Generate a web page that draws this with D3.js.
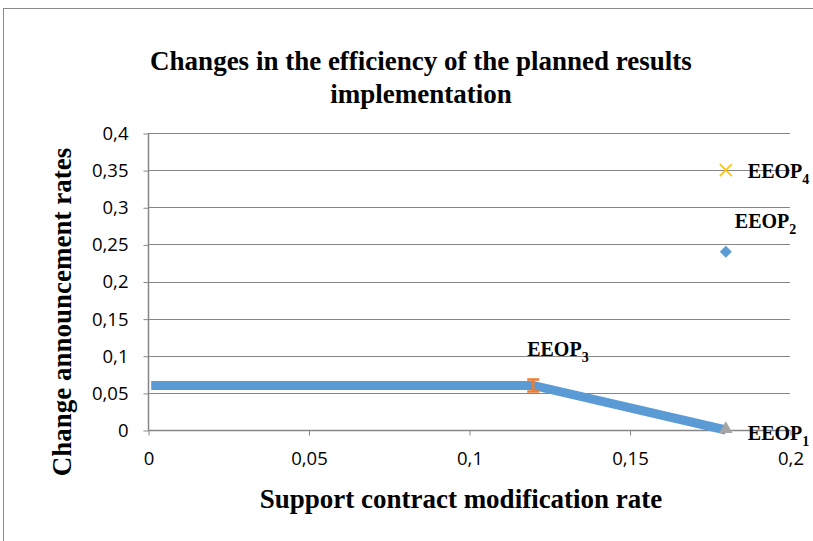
<!DOCTYPE html>
<html>
<head>
<meta charset="utf-8">
<script src="https://cdn.jsdelivr.net/npm/d3@7/dist/d3.min.js"></script>
<style>
  body { margin: 0; background: #fff; }
  svg { display: block; }
</style>
</head>
<body>
<svg></svg>
<script>
const w = 813;
const h = 541;

// data
const lineX = [0.001, 0.12, 0.18];
const lineY = [0.06, 0.06, 0];
const pointNames = ['EEOP', 'EEOP', 'EEOP', 'EEOP'];
const pointSubs = ['1', '2', '3', '4'];
const pointX = [0.18, 0.18, 0.12, 0.18];
const pointY = [0, 0.24, 0.06, 0.35];
const xTicks = [0, 0.05, 0.1, 0.15, 0.2];
const yTicks = [0, 0.05, 0.1, 0.15, 0.2, 0.25, 0.3, 0.35, 0.4];
const titleLines = ['Changes in the efficiency of the planned results', 'implementation'];

const serif = '"Liberation Serif", "Times New Roman", serif';

const svg = d3.select('svg')
    .attr('width', w)
    .attr('height', h);

// outer border
svg.append('rect')
    .attr('x', 3.5).attr('y', 8.5)
    .attr('width', w + 10).attr('height', h + 10)
    .attr('fill', 'none')
    .attr('stroke', '#8a8a8a');

const x = d3.scaleLinear().domain([0, 0.2]).range([148, 790]);
const y = d3.scaleLinear().domain([0, 0.4]).range([430, 133]);
const fmt = d => String(d).replace('.', ',');

// grid
svg.append('g')
    .selectAll('line')
    .data(yTicks.slice(1))
    .enter()
    .append('line')
    .attr('x1', x(0)).attr('x2', x(0.2))
    .attr('y1', d => Math.round(y(d)) + 0.5)
    .attr('y2', d => Math.round(y(d)) + 0.5)
    .attr('stroke', '#868686');

// y axis
const yAxis = svg.append('g')
    .attr('transform', 'translate(' + (x(0) + 0.5) + ',0.5)')
    .call(d3.axisLeft(y).tickValues(yTicks).tickFormat(fmt).tickSize(5).tickPadding(15));

// x axis
const xAxis = svg.append('g')
    .attr('transform', 'translate(0.5,' + (y(0) + 0.5) + ')')
    .call(d3.axisBottom(x).tickValues(xTicks).tickFormat(fmt).tickSize(5).tickPadding(16));

[xAxis, yAxis].forEach(a => {
    a.select('.domain').attr('stroke', '#868686').attr('stroke-width', 1.5);
    a.selectAll('.tick line').attr('stroke', '#868686');
    a.selectAll('.tick text')
        .attr('fill', '#000')
        .style('font-family', '"Open Sans", sans-serif')
        .style('font-size', '18.5px');
});
yAxis.select('.domain').attr('d', 'M0,' + y(0.4) + 'V' + y(0));
xAxis.select('.domain').attr('d', 'M' + x(0) + ',0H' + x(0.2));

// line series
const lineData = lineX.map((d, i) => [d, lineY[i]]);
svg.append('path')
    .datum(lineData)
    .attr('fill', 'none')
    .attr('stroke', '#5b9bd5')
    .attr('stroke-width', 9)
    .attr('d', d3.line().x(d => x(d[0])).y(d => y(d[1])));

// markers
// EEOP1 triangle
svg.append('path')
    .attr('transform', 'translate(' + x(pointX[0]) + ',' + (y(pointY[0]) - 1) + ')')
    .attr('d', d3.symbol().type(d3.symbolTriangle).size(80)())
    .attr('fill', '#a5a5a5');
// EEOP2 diamond
svg.append('path')
    .attr('transform', 'translate(' + x(pointX[1]) + ',' + y(pointY[1]) + ') rotate(45)')
    .attr('d', d3.symbol().type(d3.symbolSquare).size(72)())
    .attr('fill', '#5b9bd5');
// EEOP3 I-bar
svg.append('path')
    .attr('transform', 'translate(' + x(pointX[2]) + ',' + y(pointY[2]) + ')')
    .attr('d', 'M-6,-6H6M-6,6H6M0,-6V6')
    .attr('fill', 'none')
    .attr('stroke', '#ed7d31')
    .attr('stroke-width', 2.5);
// EEOP4 cross
svg.append('path')
    .attr('transform', 'translate(' + x(pointX[3]) + ',' + y(pointY[3]) + ')')
    .attr('d', 'M-6,-6L6,6M-6,6L6,-6')
    .attr('fill', 'none')
    .attr('stroke', '#ffc000')
    .attr('stroke-width', 1.5);

// point labels
const labelOffset = [[22, 10], [9, -24], [-6, -29.5], [22, 8]];
pointNames.forEach((n, i) => {
    const t = svg.append('text')
        .attr('x', x(pointX[i]) + labelOffset[i][0])
        .attr('y', y(pointY[i]) + labelOffset[i][1])
        .style('font-family', serif)
        .style('font-weight', 'bold')
        .style('font-size', '20px')
        .text(n);
    t.append('tspan')
        .attr('dy', 6)
        .style('font-size', '14px')
        .text(pointSubs[i]);
});

// title
svg.append('g')
    .selectAll('text')
    .data(titleLines)
    .enter()
    .append('text')
    .attr('x', 421)
    .attr('y', (d, i) => 70 + i * 33)
    .attr('text-anchor', 'middle')
    .style('font-family', serif)
    .style('font-weight', 'bold')
    .style('font-size', '27px')
    .text(d => d);

// axis titles
svg.append('text')
    .attr('x', 461)
    .attr('y', 508)
    .attr('text-anchor', 'middle')
    .style('font-family', serif)
    .style('font-weight', 'bold')
    .style('font-size', '27px')
    .text('Support contract modification rate');

svg.append('text')
    .attr('transform', 'translate(71,312) rotate(-90)')
    .attr('text-anchor', 'middle')
    .style('font-family', serif)
    .style('font-weight', 'bold')
    .style('font-size', '27px')
    .text('Change announcement rates');
</script>
</body>
</html>
